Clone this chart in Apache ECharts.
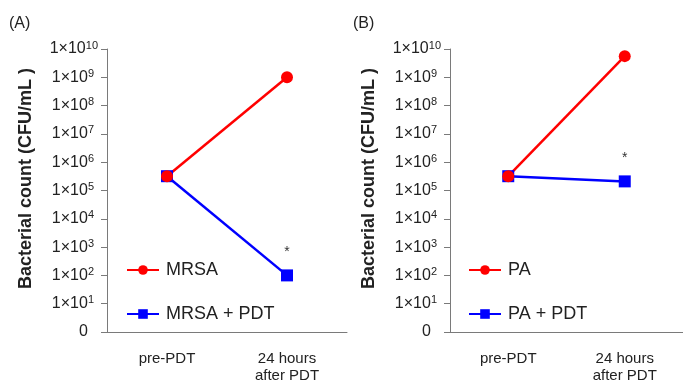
<!DOCTYPE html>
<html>
<head>
<meta charset="utf-8">
<script src="https://cdn.jsdelivr.net/npm/echarts@6/dist/echarts.min.js"></script>
<style>html,body{margin:0;padding:0;background:#fff}#c{width:683px;height:385px}</style>
</head>
<body>
<div id="c"></div>
<script>
const categories = ['pre-PDT', '24 hours\nafter PDT'];
const mrsa = [3.2e5, 1.0e9];
const mrsaPdt = [3.2e5, 1.0e2];
const pa = [3.2e5, 5.6e9];
const paPdt = [3.2e5, 2.1e5];
const yTickMain = ['0', '1×10', '1×10', '1×10', '1×10', '1×10', '1×10', '1×10', '1×10', '1×10', '1×10'];
const yTickSup = ['', '1', '2', '3', '4', '5', '6', '7', '8', '9', '10'];
const yTitle = 'Bacterial count (CFU/mL )';

const FONT = 'Liberation Sans, Arial, sans-serif';
const AX = '#7a7a7a';
const TXT = '#222';

function yAxis(gi) {
  return {
    type: 'log', logBase: 10, min: 1, max: 1e10, interval: 1, gridIndex: gi,
    name: yTitle, nameLocation: 'middle', nameGap: 72,
    nameTextStyle: { fontFamily: FONT, fontSize: 18, fontWeight: 'bold', color: TXT, padding: [0, 0, 0, 24] },
    axisLine: { show: true, lineStyle: { color: AX, width: 1 } },
    axisTick: { show: true, length: 6, lineStyle: { color: AX } },
    splitLine: { show: false },
    axisLabel: {
      margin: 9, fontFamily: FONT, color: TXT,
      formatter: function (v) {
        const e = Math.round(Math.log10(v));
        const sup = yTickSup[e];
        if (sup === '') return '{m|' + yTickMain[e] + '}{p| }';
        if (sup.length === 1) return '{m|' + yTickMain[e] + '}{s1|' + sup + '}';
        return '{m|' + yTickMain[e] + '}{s|' + sup + '}';
      },
      rich: {
        m: { fontSize: 16, fontFamily: FONT, color: TXT, lineHeight: 18 },
        p: { fontSize: 11, fontFamily: FONT, width: 10, lineHeight: 11 },
        s: { fontSize: 11, fontFamily: FONT, color: TXT, verticalAlign: 'top', lineHeight: 11 },
        s1: { fontSize: 11, fontFamily: FONT, color: TXT, verticalAlign: 'top', lineHeight: 11, padding: [0, 4, 0, 0] }
      }
    }
  };
}
function xAxis(gi) {
  return {
    type: 'category', data: categories, gridIndex: gi, boundaryGap: true,
    axisLine: { lineStyle: { color: AX, width: 1 } },
    axisTick: { alignWithLabel: true, length: 5, lineStyle: { color: AX } },
    axisLabel: { margin: 18, fontFamily: FONT, fontSize: 15, color: TXT, lineHeight: 17 }
  };
}
function ser(name, data, color, sym, gi, star) {
  return {
    type: 'line', name: name, xAxisIndex: gi, yAxisIndex: gi,
    data: data.map(function (v, i) {
      if (star && i === 1) {
        return { value: v, label: { show: true, formatter: '*', position: 'top', distance: 10, fontSize: 14, color: '#333', fontFamily: FONT } };
      }
      return v;
    }),
    symbol: sym, symbolSize: 12, showSymbol: true,
    lineStyle: { color: color, width: 2.5 },
    itemStyle: { color: color },
    emphasis: { disabled: true },
    animation: false
  };
}
function legend(left, names) {
  return {
    left: left, top: 256, orient: 'vertical', data: names,
    itemWidth: 32, itemHeight: 12, itemGap: 26,
    textStyle: { fontFamily: FONT, fontSize: 18, color: TXT, padding: [0, 0, 0, 2] }
  };
}

const chart = echarts.init(document.getElementById('c'), null, { renderer: 'canvas' });
chart.setOption({
  backgroundColor: '#fff',
  animation: false,
  title: [
    { text: '(A)', left: 9, top: 16, padding: 0, textStyle: { fontFamily: FONT, fontSize: 16, fontWeight: 'normal', color: TXT } },
    { text: '(B)', left: 353, top: 16, padding: 0, textStyle: { fontFamily: FONT, fontSize: 16, fontWeight: 'normal', color: TXT } }
  ],
  grid: [
    { left: 107, top: 49, width: 240, height: 283 },
    { left: 450, top: 49, width: 240, height: 283 }
  ],
  xAxis: [xAxis(0), xAxis(1)],
  yAxis: [yAxis(0), yAxis(1)],
  legend: [legend(121, ['MRSA', 'MRSA + PDT']), legend(463, ['PA', 'PA + PDT'])],
  series: [
    ser('MRSA + PDT', mrsaPdt, '#0000ff', 'rect', 0, true),
    ser('MRSA', mrsa, '#ff0000', 'circle', 0, false),
    ser('PA + PDT', paPdt, '#0000ff', 'rect', 1, true),
    ser('PA', pa, '#ff0000', 'circle', 1, false)
  ]
});
</script>
</body>
</html>
